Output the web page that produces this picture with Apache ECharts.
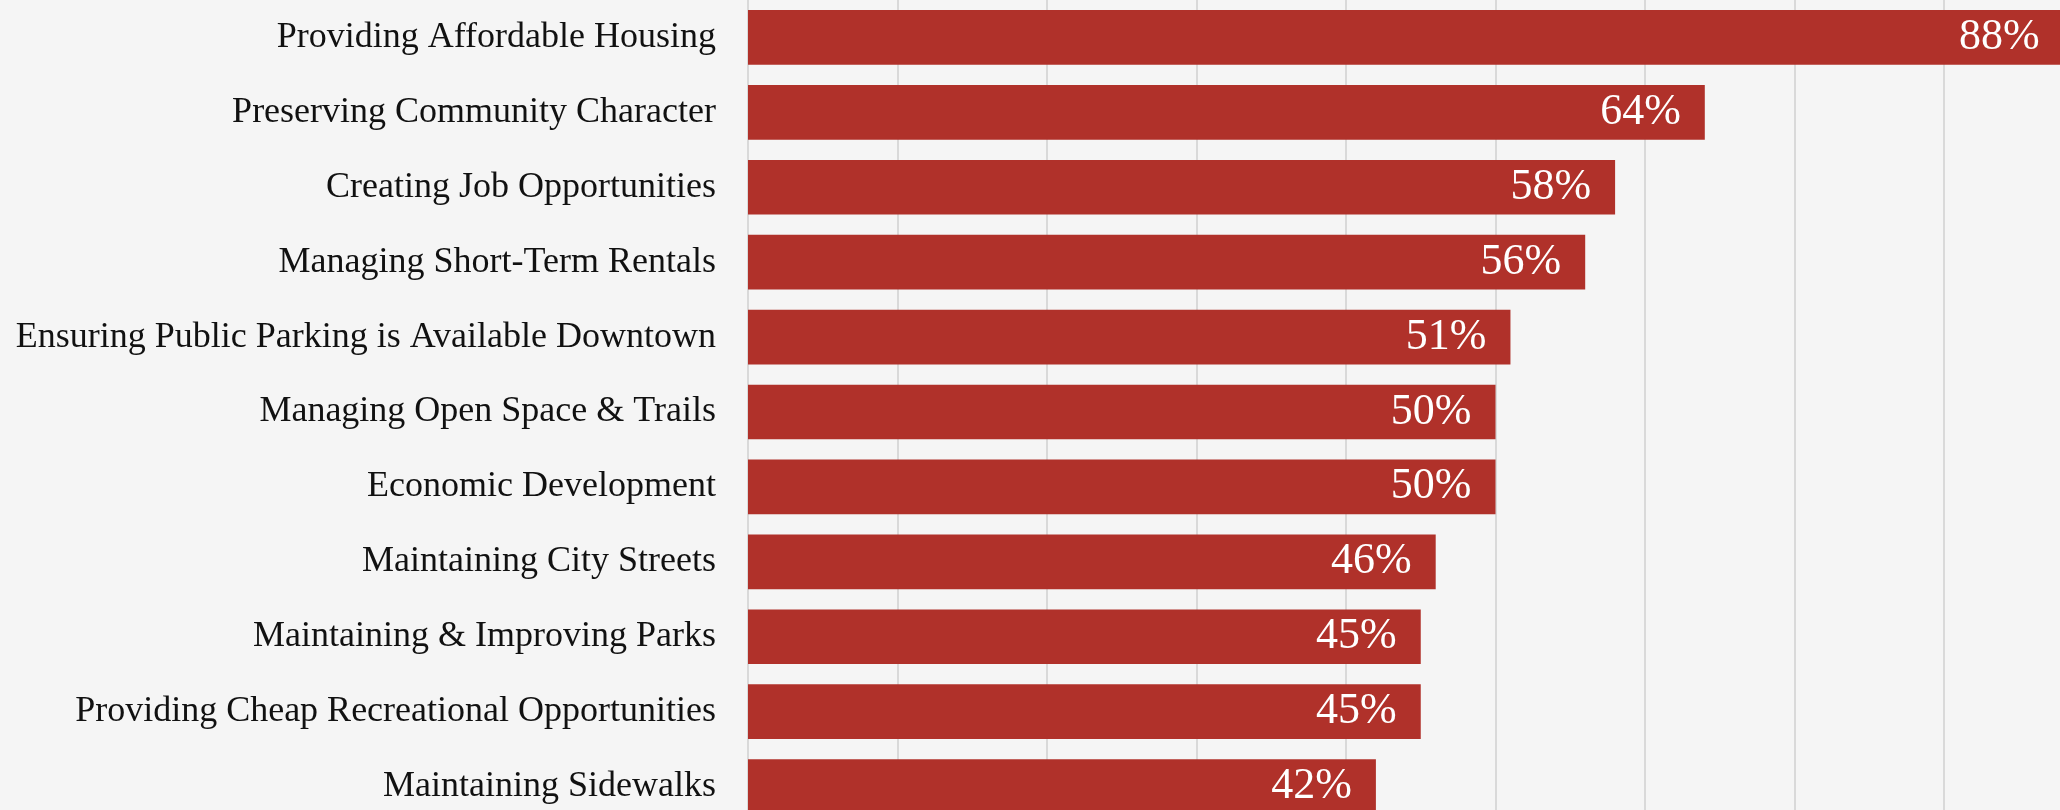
<!DOCTYPE html>
<html>
<head>
<meta charset="utf-8">
<script src="https://cdn.jsdelivr.net/npm/echarts@6/dist/echarts.min.js"></script>
<style>
  html, body { margin: 0; padding: 0; background: #f5f5f5; }
  #chart { width: 2060px; height: 810px; }
</style>
</head>
<body>
<div id="chart"></div>
<script>
// survey priorities, top to bottom
const categories = [
  "Providing Affordable Housing",
  "Preserving Community Character",
  "Creating Job Opportunities",
  "Managing Short-Term Rentals",
  "Ensuring Public Parking is Available Downtown",
  "Managing Open Space & Trails",
  "Economic Development",
  "Maintaining City Streets",
  "Maintaining & Improving Parks",
  "Providing Cheap Recreational Opportunities",
  "Maintaining Sidewalks"
];
const shares = [88, 64, 58, 56, 51, 50, 50, 46, 45, 45, 42];

const serif = "'Liberation Serif', 'DejaVu Serif', serif";

const myChart = echarts.init(document.getElementById('chart'));

const option = {
  backgroundColor: '#f5f5f5',
  animation: false,
  // the picture is a crop, so the grid runs past the right and bottom edges
  grid: {
    left: 748,
    top: 0,
    width: 1495,
    height: 824,
    outerBoundsMode: 'none',
    containLabel: false
  },
  xAxis: {
    type: 'value',
    min: 0,
    max: 100,
    interval: 10,
    axisLabel: { show: false },
    axisLine: { show: false },
    axisTick: { show: false },
    splitLine: { lineStyle: { color: '#d9d9d9', width: 2 } }
  },
  yAxis: {
    type: 'category',
    inverse: true,
    data: categories,
    axisTick: { show: false },
    axisLine: { show: true, lineStyle: { color: '#d9d9d9', width: 2 } },
    axisLabel: {
      color: '#111',
      fontFamily: serif,
      fontSize: 36,
      margin: 32
    }
  },
  series: [
    {
      type: 'bar',
      data: shares,
      barCategoryGap: '27%',
      itemStyle: { color: '#b0312a' },
      label: {
        show: true,
        position: 'insideRight',
        distance: 24,
        color: '#fff',
        fontFamily: serif,
        fontSize: 44,
        formatter: p => p.value + '%'
      }
    }
  ]
};

myChart.setOption(option);
</script>
</body>
</html>
